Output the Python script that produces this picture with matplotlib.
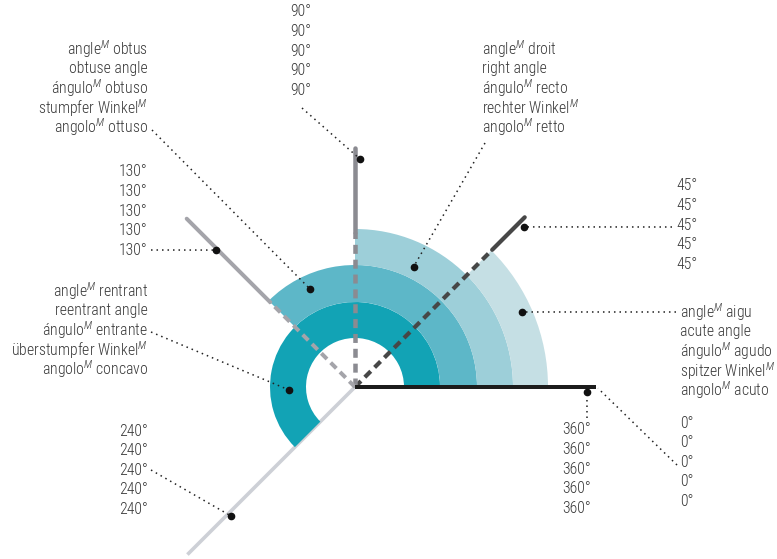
import numpy as np
import matplotlib
matplotlib.use('Agg')
from matplotlib import pyplot as plt
from matplotlib import font_manager
from matplotlib.patches import Wedge

# pick a narrow sans if one is there, otherwise shrink a normal one
avail = {f.name for f in font_manager.fontManager.ttflist}
FAM = 'Liberation Sans'
for fam in ['Liberation Sans Narrow', 'Roboto Condensed', 'Open Sans Condensed',
            'Arial Narrow', 'Nimbus Sans Narrow', 'Roboto', 'Liberation Sans']:
    if fam in avail:
        FAM = fam
        break
plt.rcParams['font.family'] = [FAM, 'DejaVu Sans']
plt.rcParams['font.weight'] = 'light'
plt.rcParams['mathtext.fontset'] = 'custom'
plt.rcParams['mathtext.rm'] = FAM + ':light'
plt.rcParams['mathtext.it'] = FAM + ':italic'

# ---- data ----------------------------------------------------------------
# rays (drawn angle in degrees) and their labels
ray_angle = [0, 45, 90, 135, 225]
ray_label = ['0°', '45°', '90°', '130°', '240°']
ray_length = [241, 240, 239, 238, 237]
ray_solid_from = [0, 194, 155, 120, 0]       # dashed part below this radius
ray_color = ['#1c1c1c', '#474747', '#8b8b91', '#a4a4aa', '#cdd0d6']
ray_width = [4.0, 4.2, 4.5, 4.0, 3.6]         # pixels

# rings: start at 0 deg, end angle, radii
ring_name = ['reentrant', 'obtuse', 'right', 'acute']
ring_end = [225, 135, 90, 45]
ring_inner = [49, 85, 122, 158]
ring_outer = [85, 122, 158, 193]
ring_color = ['#12a3b5', '#5db7c8', '#9dcfd9', '#c5dfe4']

# names in five languages (fr, en, es, de, it)
names = {
    'obtuse': ['angle$^{M}$ obtus', 'obtuse angle', 'ángulo$^{M}$ obtuso',
               'stumpfer Winkel$^{M}$', 'angolo$^{M}$ ottuso'],
    'right': ['angle$^{M}$ droit', 'right angle', 'ángulo$^{M}$ recto',
              'rechter Winkel$^{M}$', 'angolo$^{M}$ retto'],
    'reentrant': ['angle$^{M}$ rentrant', 'reentrant angle', 'ángulo$^{M}$ entrante',
                  'überstumpfer Winkel$^{M}$', 'angolo$^{M}$ concavo'],
    'acute': ['angle$^{M}$ aigu', 'acute angle', 'ángulo$^{M}$ agudo',
              'spitzer Winkel$^{M}$', 'angolo$^{M}$ acuto'],
}
full_turn_label = '360°'

# ---- figure --------------------------------------------------------------
W, H = 777, 559
CX, CY = 355, 387          # pixel position of the vertex
fig = plt.figure(figsize=(W / 100, H / 100), dpi=100)
ax = fig.add_axes([0, 0, 1, 1])
ax.set_xlim(-CX, W - CX)
ax.set_ylim(-(H - CY), CY)
ax.set_aspect('equal')
ax.axis('off')

PT = 72 / 100  # pixels -> points

# font size so that "stumpfer Winkel" is ~100 px wide, as in the reference
renderer = fig.canvas.get_renderer()
probe = ax.text(0, 0, 'stumpfer Winkel', fontsize=12.3)
wpx = probe.get_window_extent(renderer).width
probe.remove()
FS = min(12.3, 12.3 * 100 / wpx)


def px(x, y):
    return x - CX, CY - y


def polar(r, a):
    t = np.deg2rad(a)
    return r * np.cos(t), r * np.sin(t)


TXT = '#383838'
LINE = 19.6

# the light 240 ray sits under the rings
i = 4
x1, y1 = polar(ray_length[i], ray_angle[i])
ax.plot([0, x1], [0, y1], color=ray_color[i], lw=ray_width[i] * PT,
        solid_capstyle='butt', zorder=1)

for name, a2, r0, r1, c in zip(ring_name, ring_end, ring_inner, ring_outer, ring_color):
    ax.add_patch(Wedge((0, 0), r1, 0, a2, width=r1 - r0, facecolor=c,
                       edgecolor='none', zorder=2))

for i in range(4):
    a, L, s = ray_angle[i], ray_length[i], ray_solid_from[i]
    lw = ray_width[i] * PT
    if s > 0:
        xs, ys = polar(s, a)
        ax.plot([0, xs], [0, ys], color=ray_color[i], lw=lw,
                linestyle=(0, (2.0, 1.3)), dash_capstyle='butt', zorder=3)
    xs, ys = polar(s, a)
    xe, ye = polar(L, a)
    ax.plot([xs, xe], [ys, ye], color=ray_color[i], lw=lw,
            solid_capstyle='round' if i else 'butt', zorder=4)


def block(lines, x, y0, ha):
    for k, s in enumerate(lines):
        tx, ty = px(x, y0 + k * LINE)
        ax.text(tx, ty, s, ha=ha, va='center', fontsize=FS, color=TXT)


def leader(p0, p1, dot=True):
    (xa, ya), (xb, yb) = p0, p1
    ax.plot([xa, xb], [ya, yb], color='#222222', lw=1.1,
            linestyle=(0, (1, 2.6)), zorder=5)
    if dot:
        ax.plot([xb], [yb], 'o', color='#111111', ms=4.5, zorder=6)


# degree labels
block([ray_label[2]] * 5, 290, 12, 'left')
leader(px(302, 108), px(360, 159))

block([ray_label[1]] * 5, 676, 186, 'left')
leader(px(672, 227), polar(233, 43.4))

block([ray_label[3]] * 5, 148, 172, 'right')
leader(px(151, 250), polar(195, 135.4))

block([ray_label[4]] * 5, 148, 431, 'right')
leader(px(151, 470), polar(179, 226))

block([ray_label[0]] * 5, 680, 423, 'left')
leader(px(677, 465), polar(243, -0.3), dot=False)

block([full_turn_label] * 5, 591, 430, 'right')
leader(px(587, 418), polar(232, -1.2))

# angle names
block(names['obtuse'], 148, 49, 'right')
leader(px(152, 130), polar(108, 114.7))

block(names['right'], 482, 49, 'left')
leader(px(485, 143), polar(134, 64))

block(names['reentrant'], 148, 291, 'right')
leader(px(151, 332), polar(66, 182.6))

block(names['acute'], 680, 312, 'left')
leader(px(676, 312), polar(183, 24.2))

fig.savefig('out.png', dpi=100)
